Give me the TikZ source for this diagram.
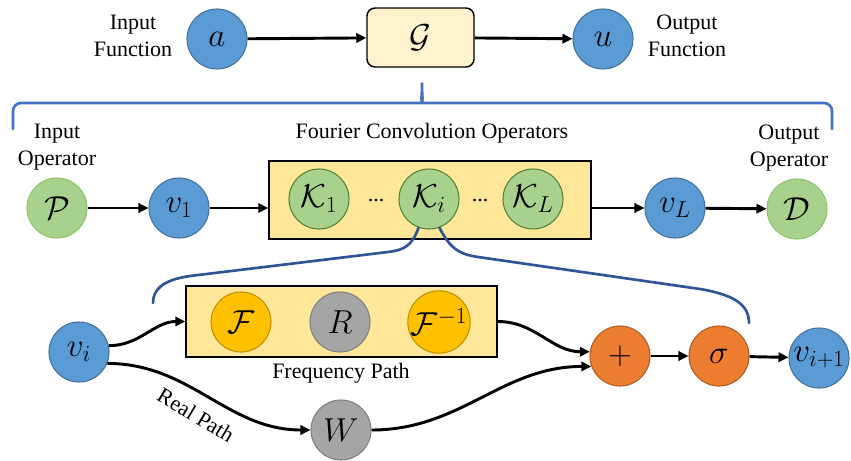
\documentclass[tikz,border=0pt]{standalone}
\usepackage{fontspec}
\setmainfont{Liberation Serif}
\usetikzlibrary{arrows.meta}
\definecolor{cblue}{HTML}{5B9BD5}
\definecolor{cblueb}{HTML}{41719C}
\definecolor{cgreen}{HTML}{A9D18E}
\definecolor{cgreenl}{HTML}{8CC46A}
\definecolor{cgreend}{HTML}{548235}
\definecolor{corange}{HTML}{ED7D31}
\definecolor{coranged}{HTML}{AE5A21}
\definecolor{cgray}{HTML}{A5A5A5}
\definecolor{cgrayd}{HTML}{7F7F7F}
\definecolor{cgold}{HTML}{FFC000}
\definecolor{cgoldd}{HTML}{BF9000}
\definecolor{cbox}{HTML}{FFE699}
\definecolor{cgbox}{HTML}{FFF2CC}
\definecolor{cbrace}{HTML}{4472C4}
\definecolor{cbraced}{HTML}{2F5597}
\begin{document}
\begin{tikzpicture}[x=0.75pt,y=-0.75pt,
  every node/.style={inner sep=0pt},
  dot/.style={circle,minimum size=45pt,line width=0.8pt,font=\fontsize{23}{26}\selectfont},
  bluec/.style={dot,fill=cblue,draw=cblueb},
  greenc/.style={dot,fill=cgreen,draw=cgreenl},
  kc/.style={dot,fill=cgreen,draw=cgreend},
  orangec/.style={dot,fill=corange,draw=coranged},
  grayc/.style={dot,fill=cgray,draw=cgrayd},
  goldc/.style={dot,fill=cgold,draw=cgoldd},
  panel/.style={draw=black,fill=cbox,line width=1.1pt},
  lbl/.style={font=\fontsize{16.5}{20}\selectfont,align=center},
  arr/.style={line width=2.2pt,-{Triangle[length=7.5pt,width=7pt]}},
  brace/.style={line width=2pt,line cap=round}
]
\useasboundingbox (0,0) rectangle (851,461);

% ---------- top row ----------
\node[lbl] (inf) at (133,36) {Input\\Function};
\node[bluec] (a) at (217,39) {\(a\)};
\node[draw=black,fill=cgbox,line width=1.1pt,rounded corners=6pt,
      minimum width=80.25pt,minimum height=44.25pt,font=\fontsize{23}{26}\selectfont] (G) at (420.5,37.5) {\(\mathcal{G}\)};
\node[bluec] (u) at (603,39) {\(u\)};
\node[lbl] (outf) at (687,36) {Output\\Function};
\draw[arr] (a) -- (G);
\draw[arr] (G) -- (u);

% top brace
\draw[brace,cbrace,rounded corners=6pt] (13,129) -- (13,103) -- (416,103)
  .. controls (420,103) and (422,98) .. (422,78)
  .. controls (422,98) and (424,103) .. (428,103) -- (832,103) -- (832,129);

% ---------- middle row ----------
\node[lbl] (inop) at (57,147) {Input\\Operator};
\node[lbl] (fco) at (432,133) {Fourier Convolution Operators};
\node[lbl] (outop) at (789,148) {Output\\Operator};

\node[panel,minimum width=241.5pt,minimum height=58.5pt] (kbox) at (430,200) {};
\node[greenc] (P) at (57,208) {\(\mathcal{P}\)};
\node[bluec] (v1) at (179,208) {\(v_1\)};
\node[kc] (K1) at (319,199) {\(\mathcal{K}_1\)};
\node[lbl] (d1) at (376,201) {...};
\node[kc] (Ki) at (429,199) {\(\mathcal{K}_i\)};
\node[lbl] (d2) at (480,201) {...};
\node[kc] (KL) at (533,199) {\(\mathcal{K}_L\)};
\node[bluec] (vL) at (675,208) {\(v_L\)};
\node[greenc] (D) at (797,209) {\(\mathcal{D}\)};
\draw[arr] (P) -- (v1);
\draw[arr] (v1.east) -- (kbox.west |- v1.east);
\draw[arr] (kbox.east |- vL.west) -- (vL.west);
\draw[arr] (vL) -- (D);

% lower braces
\draw[brace,cbraced] (Ki.250) .. controls (412,246) and (404,250) .. (388,252)
  -- (190,276) .. controls (162,280) and (153,290) .. (153,303);
\draw[brace,cbraced] (Ki.290) .. controls (450,248) and (458,254) .. (478,257)
  -- (700,289) .. controls (735,295) and (749,305) .. (749,323);

% ---------- bottom row ----------
\node[panel,minimum width=233.25pt,minimum height=53.25pt] (fbox) at (341.5,321.5) {};
\node[goldc] (F) at (241,322) {\(\mathcal{F}\)};
\node[grayc] (R) at (340,322) {\(R\)};
\node[goldc] (Fi) at (439,322) {\(\mathcal{F}^{-1}\)};
\node[lbl] (fpath) at (341,373) {Frequency Path};
\node[bluec] (vi) at (79,352) {\(v_i\)};
\node[grayc] (W) at (341,430) {\(W\)};
\node[orangec] (plus) at (620,356) {\(+\)};
\node[orangec] (sig) at (719,356) {\(\sigma\)};
\node[bluec] (vip) at (819,358) {\(v_{i+1}\)};
\node[lbl,rotate=-31] (rpath) at (196,415) {Real Path};

\draw[arr] (vi.12) to[out=0,in=180] (fbox.west);
\draw[arr] (vi.-22) to[out=0,in=180] (W.west);
\draw[arr] (fbox.east) to[out=0,in=180] (plus.172);
\draw[arr] (W.east) to[out=0,in=180] (plus.200);
\draw[arr] (plus) -- (sig);
\draw[arr] (sig) -- (vip);
\end{tikzpicture}
\end{document}
